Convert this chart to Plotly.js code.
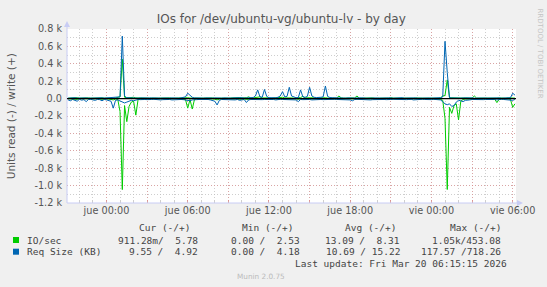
<!DOCTYPE html>
<html><head><meta charset="utf-8">
<script src="https://cdn.plot.ly/plotly-3.0.1.min.js"></script>
<style>html,body{margin:0;padding:0;background:#F0F0F0;overflow:hidden}#c{width:547px;height:287px}</style>
</head><body><div id="c"></div>
<script>
// time grid: hours relative to "jue 00:00", 10-minute samples starting Wed 21:10
const startHour = -17/6;
const stepHour = 1/6;

// IO/sec read (plotted negative) and write
const ioRead = [
-2,-5,0,-3,-8,-2,-4,0,-6,-2,
-3,0,-5,-2,-4,-8,-3,-2,-5,-10,
-15,-5,-8,-150,-1046,-80,-265,-90,-40,-30,
-190,-10,-5,-3,-2,-4,0,-3,-2,-5,
-2,-3,0,-4,-2,-3,-5,-2,0,-3,
-2,-4,-10,-110,-10,-120,-8,-3,-2,-4,
-2,-3,-5,-2,-4,-6,-15,-5,-2,-3,
-2,0,-3,-2,-4,-3,-8,-5,-2,-10,
-3,-2,-4,-2,-5,-3,-2,-4,-3,-2,
-3,-2,-4,-3,-2,-5,-3,-2,-4,-3,
-2,-3,-8,-2,-3,-2,-4,-3,-2,-3,
-2,-4,-3,-2,-3,-2,-4,-3,-2,-3,
-2,-3,-4,-2,-3,-5,-8,-3,-2,-3,
-2,-4,-3,-2,-3,-2,-4,-3,-2,-3,
-2,-3,-4,-2,-3,-2,-4,-3,-2,-3,
-2,-3,-4,-2,-3,-5,-3,-2,-3,-2,
-3,-2,-4,-3,-5,-8,-20,-227,-1045,-100,
-170,-80,-60,-245,-30,-10,-5,-3,-4,-2,
-3,-2,-4,-3,-2,-3,-4,-2,-3,-5,
-46,-8,-3,-2,-4,-3,-8,-100,-60];
const ioWrite = [
5,8,4,6,10,5,7,4,6,8,
5,7,4,6,5,8,6,4,7,5,
6,8,10,20,453,15,8,10,15,15,
8,6,5,7,4,6,5,8,4,6,
5,7,4,6,5,8,4,6,5,7,
4,6,8,10,6,8,5,4,6,5,
7,4,6,5,8,4,6,5,7,4,
6,5,8,4,6,10,12,8,6,10,
20,6,8,10,12,20,8,10,6,8,
5,7,6,10,12,15,8,10,12,8,
6,8,10,12,25,8,10,12,6,8,
5,7,6,8,10,6,5,7,4,6,
30,8,5,7,4,6,5,8,30,6,
5,7,4,6,5,8,4,6,5,7,
4,6,5,10,6,5,7,4,6,5,
8,4,6,5,7,10,6,5,4,6,
5,7,4,6,5,8,30,35,215,10,
8,6,10,5,7,6,8,4,6,5,
30,6,5,7,4,6,5,8,4,6,
5,7,4,6,5,8,6,10,6];

// Req Size (KB) read (plotted negative) and write
const reqRead = [
-15,-25,-10,-20,-30,-8,-18,-12,-35,-10,
-8,-15,-20,-10,-12,-25,-10,-15,-20,-30,
-110,-20,-15,-30,-40,-50,-40,-30,-20,-25,
-15,-10,-12,-8,-10,-12,-15,-10,-8,-12,
-10,-15,-12,-10,-8,-10,-15,-12,-10,-8,
-10,-12,-15,-20,-25,-15,-10,-12,-10,-8,
-10,-12,-10,-15,-20,-30,-73,-20,-10,-12,
-10,-8,-10,-12,-15,-10,-20,-15,-10,-45,
-15,-10,-12,-8,-10,-15,-12,-10,-8,-10,
-12,-10,-15,-10,-8,-10,-12,-10,-15,-10,
-12,-15,-35,-10,-12,-10,-8,-10,-15,-12,
-10,-8,-10,-12,-10,-15,-10,-12,-8,-10,
-12,-10,-8,-10,-12,-15,-25,-10,-8,-10,
-12,-10,-8,-10,-15,-12,-10,-8,-10,-12,
-10,-12,-15,-10,-8,-10,-12,-10,-8,-10,
-12,-10,-8,-15,-12,-15,-10,-8,-10,-12,
-10,-12,-8,-10,-12,-15,-35,-60,-70,-60,
-90,-80,-40,-20,-25,-35,-20,-20,-15,-10,
-12,-10,-8,-10,-12,-10,-8,-10,-12,-10,
-15,-10,-8,-10,-12,-10,-15,-20,-10];
const reqWrite = [
5,8,6,10,5,7,12,6,8,5,
6,10,8,5,7,9,6,8,10,7,
8,10,12,20,718,30,10,8,6,8,
7,5,8,6,10,5,7,8,6,5,
8,6,7,5,9,6,8,5,7,6,
8,10,20,62,40,15,8,6,7,5,
6,8,5,7,6,8,5,7,6,8,
5,7,6,8,10,12,15,10,6,8,
10,8,12,30,100,20,15,105,25,10,
8,12,10,15,30,80,20,25,130,30,
15,10,12,100,20,15,25,130,30,15,
12,10,15,20,145,25,12,10,8,10,
8,10,7,6,8,5,7,6,8,10,
6,8,5,7,6,8,5,7,6,8,
5,7,6,8,5,7,6,8,10,6,
8,5,7,6,8,5,7,6,8,5,
7,6,8,5,7,10,20,658,300,10,
8,6,10,8,6,8,10,7,6,8,
5,7,6,8,5,7,6,8,5,7,
6,8,5,7,6,8,10,62,40];

const xTickVals = [0,3,6,9,12,15,18,21,24,27,30];
const xTickText = ['jue 00:00','','jue 06:00','','jue 12:00','','jue 18:00','','vie 00:00','','vie 06:00'];
const yTickVals = [-1200,-1000,-800,-600,-400,-200,0,200,400,600,800];
const yTickText = ['-1.2 k','-1.0 k','-0.8 k','-0.6 k','-0.4 k','-0.2 k','0.0','0.2 k','0.4 k','0.6 k','0.8 k'];

const legendHeader = ['Cur (-/+)','Min (-/+)','Avg (-/+)','Max (-/+)'];
const seriesNames = ['IO/sec','Req Size (KB)'];
const ioStats = ['911.28m/  5.78','0.00 /  2.53','13.09 /  8.31','1.05k/453.08'];
const reqStats = ['9.55 /  4.92','0.00 /  4.18','10.69 / 15.22','117.57 /718.26'];
const lastUpdate = 'Last update: Fri Mar 20 06:15:15 2026';

const GREEN = '#00CC00', BLUE = '#0066B3';
const W = 547, H = 287, L = 67, R = 516, T = 29, B = 203;
const px = x => (x - L) / (R - L);
const py = y => (B - y) / (B - T);
const nb = s => s.replace(/ /g, '\u00a0');

const t = ioRead.map((_, i) => startHour + i * stepHour);

function ln(y, c) { return {x: t, y: y, type: 'scatter', mode: 'lines', line: {color: c, width: 1}, hoverinfo: 'skip'}; }
const data = [ln(ioRead, GREEN), ln(ioWrite, GREEN), ln(reqRead, BLUE), ln(reqWrite, BLUE)];

const MAJ = 'rgba(225,130,130,0.55)', MIN = 'rgba(190,190,190,0.75)', AX = '#C8CCF4';
const tickFont = {family: 'DejaVu Sans', size: 9.7, color: '#555'};
const mono = {family: 'DejaVu Sans Mono', size: 9.5, color: '#444'};

const ann = [];
function A(text, x, y, xa, font, extra) { ann.push(Object.assign({text: nb(text), x: px(x), y: py(y), xref: 'paper', yref: 'paper', xanchor: xa, yanchor: 'middle', showarrow: false, font: font}, extra || {})); }
const colRight = [191.7, 295, 398, 502.7];
const valRight = [200, 301.7, 402, 502.7];
legendHeader.forEach((s, k) => A(s, colRight[k], 227.3, 'right', mono));
A(seriesNames[0], 24.5, 240, 'left', mono);
A(seriesNames[1], 24.5, 251.7, 'left', mono);
ioStats.forEach((s, k) => A(s, valRight[k], 240, 'right', mono));
reqStats.forEach((s, k) => A(s, valRight[k], 251.7, 'right', mono));
A(lastUpdate, 509, 263.3, 'right', mono);
A('Munin 2.0.75', 260.7, 276, 'center', {family: 'DejaVu Sans', size: 7.3, color: '#BBBBBB'});
A('Units read (-) / write (+)', 10.5, 115.8, 'center', {family: 'DejaVu Sans', size: 10.5, color: '#555'}, {textangle: -90});
A('RRDTOOL / TOBI OETIKER', 539.5, 53, 'center', {family: 'DejaVu Sans', size: 7, color: '#C4C4C4'}, {textangle: 90});

const shapes = [
  {type: 'line', xref: 'paper', yref: 'paper', x0: px(L), x1: px(518), y0: py(B), y1: py(B), line: {color: AX, width: 1}, layer: 'above'},
  {type: 'path', xref: 'paper', yref: 'paper', path: `M ${px(517)} ${py(200)} L ${px(523)} ${py(B)} L ${px(517)} ${py(206)} Z`, fillcolor: AX, line: {color: AX, width: 0}, layer: 'above'},
  {type: 'line', xref: 'paper', yref: 'paper', x0: px(L), x1: px(L), y0: py(B), y1: py(26), line: {color: AX, width: 1}, layer: 'above'},
  {type: 'path', xref: 'paper', yref: 'paper', path: `M ${px(64)} ${py(27)} L ${px(L)} ${py(21)} L ${px(70)} ${py(27)} Z`, fillcolor: AX, line: {color: AX, width: 0}, layer: 'above'},
  {type: 'line', xref: 'paper', yref: 'y', x0: 0, x1: 1, y0: 0, y1: 0, line: {color: '#000', width: 1.2}, layer: 'above'},
  {type: 'rect', xref: 'paper', yref: 'paper', x0: px(13), x1: px(19), y0: py(237), y1: py(243), fillcolor: GREEN, line: {width: 0}},
  {type: 'rect', xref: 'paper', yref: 'paper', x0: px(13), x1: px(19), y0: py(248.7), y1: py(254.7), fillcolor: BLUE, line: {width: 0}}
];

const layout = {
  width: W, height: H,
  margin: {l: L, r: W - R, t: T, b: H - B, pad: 0},
  paper_bgcolor: '#F0F0F0', plot_bgcolor: '#FFFFFF',
  showlegend: false,
  title: {text: 'IOs for /dev/ubuntu-vg/ubuntu-lv - by day', font: {family: 'DejaVu Sans', size: 12, color: '#555'}, x: 261 / W, xref: 'paper', xanchor: 'center', y: 1 - 19 / H, yref: 'container', yanchor: 'middle'},
  xaxis: {range: [(L - 106.5) / 13.54, (R - 106.5) / 13.54], tickmode: 'array', tickvals: xTickVals, ticktext: xTickText,
    showgrid: true, gridcolor: MAJ, griddash: '1px,2px', gridwidth: 1, zeroline: false, showline: false,
    ticks: 'inside', ticklen: 3, tickcolor: MAJ, tickfont: tickFont,
    minor: {tickmode: 'linear', tick0: 0, dtick: 1, showgrid: true, gridcolor: MIN, griddash: '1px,2px', ticks: 'inside', ticklen: 2, tickcolor: MIN}},
  yaxis: {range: [-1200, 800], tickmode: 'array', tickvals: yTickVals, ticktext: yTickText,
    showgrid: true, gridcolor: MAJ, griddash: '1px,2px', gridwidth: 1, zeroline: false, showline: false,
    ticks: '', tickfont: tickFont, ticklabelstandoff: 4,
    minor: {tickmode: 'linear', tick0: 0, dtick: 100, showgrid: true, gridcolor: MIN, griddash: '1px,2px'}},
  annotations: ann, shapes: shapes
};
Plotly.newPlot('c', data, layout, {staticPlot: true, displayModeBar: false});
</script></body></html>
